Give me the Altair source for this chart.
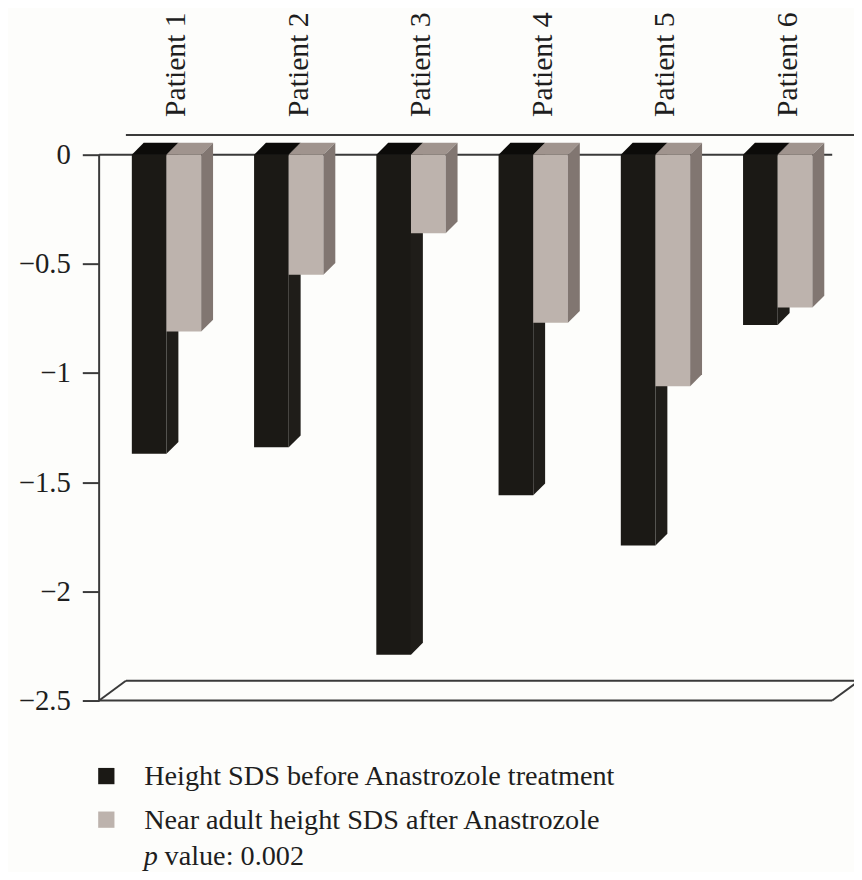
import altair as alt
import pandas as pd

# ---- data ----
patients = ["Patient 1", "Patient 2", "Patient 3", "Patient 4", "Patient 5", "Patient 6"]
before = [-1.37, -1.34, -2.29, -1.56, -1.79, -0.78]
after = [-0.81, -0.55, -0.36, -0.77, -1.06, -0.70]
series_names = ["Height SDS before Anastrozole treatment",
                "Near adult height SDS after Anastrozole"]
y_ticks = [0, -0.5, -1, -1.5, -2, -2.5]
p_text = "value: 0.002"

# ---- layout constants (pixel geometry converted to scale units) ----
PX_X = 123.4          # px per patient slot
PX_Y = 220.4          # px per SDS unit
W, H = 762, 574
XMAX = W / PX_X
YMIN, YMAX = -2.5, -2.5 + H / PX_Y
BAR_L = 33 / PX_X      # left of first (black) bar within slot
BAR_W = 35 / PX_X      # front face width
DX = 12 / PX_X         # bar depth
DY = 12 / PX_Y
FDX = 27 / PX_X        # floor / wall depth
FDY = 20 / PX_Y
FRONT_R = 740 / PX_X   # right end of front floor line
LABEL_X = 78 / PX_X

FONT = "Liberation Serif"
TXT = "#1e1e1e"
black_front, black_top, black_side = "#1b1915", "#0c0b09", "#1f1d19"
gray_front, gray_top, gray_side = "#bdb3ad", "#a0948e", "#817671"

xs = alt.Scale(domain=[0, XMAX], nice=False, zero=False)
ys = alt.Scale(domain=[YMIN, YMAX], nice=False, zero=False)


def fronts(vals, k, name):
    rows = []
    for i, v in enumerate(vals):
        x0 = i + BAR_L + k * BAR_W
        rows.append(dict(p=patients[i], series=name, x=x0, x2=x0 + BAR_W, y=0.0, y2=v))
    return pd.DataFrame(rows)


def tops(vals, k):
    rows = []
    for i, v in enumerate(vals):
        x0 = i + BAR_L + k * BAR_W
        x1 = x0 + BAR_W
        rows += [dict(p=patients[i], x=x0, y=0.0, y2=0.0),
                 dict(p=patients[i], x=x0 + DX, y=DY, y2=0.0),
                 dict(p=patients[i], x=x1, y=DY, y2=0.0),
                 dict(p=patients[i], x=x1 + DX, y=DY, y2=DY)]
    return pd.DataFrame(rows)


def sides(vals, k):
    rows = []
    for i, v in enumerate(vals):
        x1 = i + BAR_L + (k + 1) * BAR_W
        rows += [dict(p=patients[i], x=x1, y=0.0, y2=v),
                 dict(p=patients[i], x=x1 + DX, y=DY, y2=v + DY)]
    return pd.DataFrame(rows)


color = alt.Color(
    "series:N",
    scale=alt.Scale(domain=series_names, range=[black_front, gray_front]),
    legend=alt.Legend(
        title=None, orient="none", legendX=-7, legendY=636,
        symbolType="square", symbolSize=270,
        labelFont=FONT, labelFontSize=28.5, labelColor=TXT,
        labelOffset=24, rowPadding=15, labelLimit=800,
    ),
)

yaxis = alt.Axis(
    values=y_ticks, domain=False, grid=False, tickSize=17, tickWidth=2,
    tickColor="#3a3a3a", labelFont=FONT, labelFontSize=29, labelColor=TXT,
    labelPadding=12, title=None,
    labelExpr="datum.value == 0 ? '0' : '\u2212' + format(abs(datum.value), '~g')")

xenc = alt.X("x:Q", scale=xs, axis=None)
yenc = alt.Y("y:Q", scale=ys, axis=yaxis, stack=None)


def front_layer(vals, k, name):
    return alt.Chart(fronts(vals, k, name)).mark_rect().encode(
        x=xenc, x2="x2", y=yenc, y2="y2", color=color)


def area_layer(df, col):
    return alt.Chart(df).mark_area(color=col).encode(
        x=xenc, y=yenc, y2="y2", detail="p:N")


# frame lines
frame = pd.DataFrame([
    dict(x=0.0, x2=FRONT_R, y=0.0, y2=0.0),
    dict(x=FDX, x2=XMAX, y=FDY, y2=FDY),
    dict(x=0.0, x2=FRONT_R, y=-2.5, y2=-2.5),
    dict(x=FDX, x2=XMAX, y=-2.5 + FDY, y2=-2.5 + FDY),
    dict(x=0.0, x2=FDX, y=-2.5, y2=-2.5 + FDY),
    dict(x=FRONT_R, x2=FRONT_R + FDX, y=-2.5, y2=-2.5 + FDY),
    dict(x=0.0, x2=0.0, y=0.0, y2=-2.5),
])
frame_layer = alt.Chart(frame).mark_rule(color="#3a3a3a", strokeWidth=2).encode(
    x=xenc, x2="x2", y=yenc, y2="y2")

# patient labels on top
lab = pd.DataFrame({"p": patients, "x": [i + LABEL_X for i in range(len(patients))]})
label_layer = alt.Chart(lab).mark_text(
    angle=270, align="left", baseline="middle", font=FONT, fontSize=30, color=TXT
).encode(x=xenc, y=alt.value(-15), text="p:N")

# p value line
p_layer = alt.Chart(pd.DataFrame({"t": ["p"]})).mark_text(
    align="left", baseline="alphabetic", font=FONT, fontSize=28.5, fontStyle="italic", color=TXT
).encode(x=alt.value(45), y=alt.value(740), text="t:N")
pv_layer = alt.Chart(pd.DataFrame({"t": [p_text]})).mark_text(
    align="left", baseline="alphabetic", font=FONT, fontSize=28.5, color=TXT
).encode(x=alt.value(66), y=alt.value(740), text="t:N")

chart = alt.layer(
    frame_layer,
    front_layer(before, 0, series_names[0]),
    area_layer(tops(before, 0), black_top),
    area_layer(sides(before, 0), black_side),
    front_layer(after, 1, series_names[1]),
    area_layer(tops(after, 1), gray_top),
    area_layer(sides(after, 1), gray_side),
    label_layer,
    p_layer,
    pv_layer,
).properties(
    width=W, height=H,
    autosize=alt.AutoSizeParams(type="none"),
    padding={"left": 92, "top": 121, "right": 0, "bottom": 169},
    background="#fdfdfb",
).configure_view(stroke=None)

chart.save("out.html", embed_options={"renderer": "svg", "actions": False})
